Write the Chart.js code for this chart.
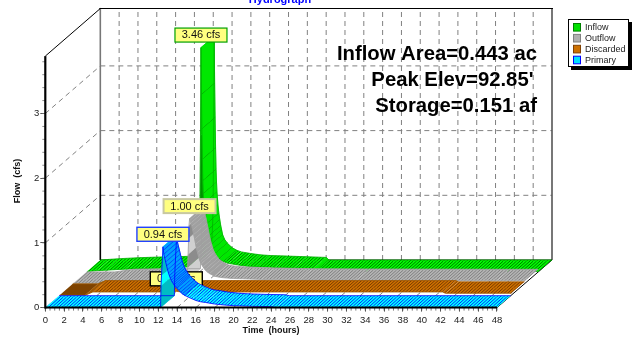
<!DOCTYPE html>
<html><head><meta charset="utf-8">
<style>html,body{margin:0;padding:0;background:#fff}canvas{display:block}</style>
<script src="https://cdn.jsdelivr.net/npm/chart.js@4"></script>
</head><body><canvas id="c" width="637" height="341"></canvas>
<script>
const inflowHours=[0,1,2,4,6,8,10,11,11.5,11.75,11.85,11.95,12,12.05,12.1,12.15,12.2,12.25,12.3,12.35,12.4,12.5,12.6,12.7,12.8,12.9,13,13.2,13.5,14,14.5,15,16,17,18,20,22,24,24.3,48];
const inflowCfs=[0,.01,.02,.035,.045,.05,.06,.075,.1,.15,.3,.6,1.1,2.1,3.46,2.73,2.2,1.73,1.4,1.2,1.05,.85,.72,.62,.53,.46,.39,.32,.26,.19,.15,.125,.1,.08,.07,.06,.05,.04,0,0];
const outflowHours=[0,3,4,5,11,12.1,12.15,12.2,12.25,12.3,12.35,12.4,12.5,12.6,12.7,12.8,12.9,13,13.1,13.2,13.3,13.4,13.5,13.6,13.8,14,14.2,14.5,15,15.5,16,17,18,20,24,30,45,48];
const outflowCfs=[0,0,.02,.04,.05,.05,.25,.45,.7,.9,1,.97,.93,.88,.82,.75,.68,.6,.53,.47,.42,.37,.33,.3,.25,.21,.18,.15,.11,.095,.085,.075,.07,.06,.05,.045,.04,.04];
const discardedHours=[0,2.7,3.5,12,12.4,13,40.7,41,48];
const discardedCfs=[0,0,.05,.05,.06,.05,.05,.03,.03];
const primaryHours=[0,12.25,12.3,12.35,12.45,12.5,12.55,12.6,12.7,12.8,12.9,13,13.1,13.2,13.3,13.4,13.5,13.6,13.7,13.8,13.9,14,14.2,14.4,14.6,14.8,15,15.3,15.6,16,16.5,17,18,19,20,22,24,24.5,48];
const primaryCfs=[0,0,.34,.5,.78,.94,.88,.82,.76,.7,.64,.58,.53,.49,.45,.42,.39,.37,.345,.325,.31,.295,.265,.235,.21,.19,.175,.155,.135,.11,.09,.08,.055,.04,.03,.02,.015,0,0];
const xTicks=[0,2,4,6,8,10,12,14,16,18,20,22,24,26,28,30,32,34,36,38,40,42,44,46,48];
const yTicks=[0,1,2,3];
const peakLabels=["3.46 cfs","1.00 cfs","0.06 cfs","0.94 cfs"];
const seriesNames=["Inflow","Outflow","Discarded","Primary"];
const noteLines=["Inflow Area=0.443 ac","Peak Elev=92.85'","Storage=0.151 af"];

const FONT='"Liberation Sans", Arial, sans-serif';
const STYLES=[
 {d:[.76,1],base:'#00ff00',fall:'#00e800',hatch:'#005a00',steep:'#006000',lw:.9,edge:'#00b000',faces:['#009000','#00c000'],box:'#00a000',boxW:1.2,swatch:'#00e000',swEdge:'#008000'},
 {d:[.51,.75],base:'#b4b4b4',fall:'#a0a0a0',hatch:'#777777',steep:'#c8c8c8',lw:.9,edge:'#a0a0a0',faces:['#d0d0d0','#8c8c8c'],box:'#c8c8a0',boxW:2,swatch:'#b0b0b0',swEdge:'#808080'},
 {d:[.26,.5],base:'#cc7000',fall:'#cc7000',hatch:'#6a3000',steep:'#6a3000',lw:.9,edge:'#a05800',faces:['#a05800','#cc7000'],box:'#000000',boxW:1.4,zero:'#7f4300',swatch:'#cc7000',swEdge:'#804000'},
 {d:[0,.25],base:'#00ffff',fall:'#00a0ff',hatch:'#0000ff',steep:'#0000ff',lw:1.1,edge:'#0000ff',faces:['#00bcc4','#00ffff'],box:'#2040ff',boxW:1.4,swatch:'#00e0ff',swEdge:'#0000ff'}
];
const DEPTH_X=55/9.408, DEPTH_Y=47.6/64.7, AXIS_TOP=3.887;

function hatchTile(ctx,color){
  const c=document.createElement('canvas');c.width=10;c.height=9;
  const g=c.getContext('2d');g.strokeStyle=color;g.lineWidth=.85;
  for(let k=-4;k<=4;k++){const o=k*10/3;g.beginPath();g.moveTo(o,9);g.lineTo(o+10,0);g.stroke();}
  return ctx.createPattern(c,'repeat');
}
function dash(ctx,x0,y0,x1,y1,col){ctx.save();ctx.strokeStyle=col||'#808080';ctx.lineWidth=1;ctx.setLineDash([5,4]);ctx.beginPath();ctx.moveTo(x0,y0);ctx.lineTo(x1,y1);ctx.stroke();ctx.restore();}
function solid(ctx,x0,y0,x1,y1,col,w){ctx.save();ctx.strokeStyle=col;ctx.lineWidth=w;ctx.beginPath();ctx.moveTo(x0,y0);ctx.lineTo(x1,y1);ctx.stroke();ctx.restore();}

const hydro={
 id:'hydro',
 beforeDatasetsDraw(chart){
  const {ctx,scales:{x,y}}=chart;
  const X=(t,f)=>x.getPixelForValue(t+f*DEPTH_X), Y=(v,f)=>y.getPixelForValue(v+f*DEPTH_Y);
  for(let t=2;t<=46;t+=2){dash(ctx,X(t,1),Y(0,1),X(t,1),Y(AXIS_TOP,1));dash(ctx,X(t,0),Y(0,0),X(t,1),Y(0,1));}
  for(const v of [1,2,3]){dash(ctx,X(0,1),Y(v,1),X(48,1),Y(v,1));dash(ctx,X(0,0),Y(v,0),X(0,1),Y(v,1));}
  solid(ctx,X(0,1),Y(1.4,1),X(0,1),Y(AXIS_TOP,1),'#777',1.6);
  solid(ctx,X(0,1),Y(0,1),X(0,1),Y(1.4,1),'#000',1.6);
  solid(ctx,X(48,1),Y(0,1),X(48,1),Y(AXIS_TOP,1),'#555',1.6);
  solid(ctx,X(0,1)-1,Y(AXIS_TOP,1),X(48,1)+1,Y(AXIS_TOP,1),'#000',1);
  solid(ctx,X(0,0),Y(AXIS_TOP,0),X(0,1),Y(AXIS_TOP,1),'#000',1);
  solid(ctx,X(0,1),Y(0,1),X(48,1),Y(0,1),'#000',1);
  solid(ctx,X(48,0),Y(0,0),X(48,1),Y(0,1),'#000',1);
 },
 afterDatasetsDraw(chart){
  const {ctx,scales:{x,y}}=chart;
  const X=(t,f)=>x.getPixelForValue(t+f*DEPTH_X), Y=(v,f)=>y.getPixelForValue(v+f*DEPTH_Y);
  chart.data.datasets.forEach((ds,si)=>{
    const st=STYLES[si],[f0,f1]=st.d,pts=ds.data;
    const pat=hatchTile(ctx,st.hatch);
    let faceIdx=0;
    ctx.save();
    for(let i=0;i<pts.length-1;i++){
      const a=pts[i],b=pts[i+1];
      const rise=(b.y-a.y)*64.7, run=(b.x-a.x)*9.408;
      ctx.beginPath();
      ctx.moveTo(X(a.x,f0),Y(a.y,f0));ctx.lineTo(X(b.x,f0),Y(b.y,f0));
      ctx.lineTo(X(b.x,f1),Y(b.y,f1));ctx.lineTo(X(a.x,f1),Y(a.y,f1));ctx.closePath();
      if(rise>3){ctx.fillStyle=st.faces[faceIdx++%2];ctx.fill();ctx.strokeStyle=ctx.fillStyle;ctx.lineWidth=.5;ctx.stroke();}
      else if(rise/run<-.55){ctx.fillStyle=st.fall;ctx.fill();ctx.strokeStyle=st.fall;ctx.lineWidth=.5;ctx.stroke();
        ctx.beginPath();ctx.moveTo(X(b.x,f0),Y(b.y,f0));ctx.lineTo(X(b.x,f1),Y(b.y,f1));ctx.strokeStyle=st.steep;ctx.lineWidth=st.lw;ctx.stroke();}
      else if(st.zero&&a.y===0&&b.y===0){ctx.fillStyle=st.zero;ctx.fill();}
      else{ctx.fillStyle=st.base;ctx.fill();ctx.fillStyle=pat;ctx.fill();}
    }
    for(const f of [f0,f1]){
      ctx.beginPath();pts.forEach((p,i)=>{i?ctx.lineTo(X(p.x,f),Y(p.y,f)):ctx.moveTo(X(p.x,f),Y(p.y,f));});
      ctx.strokeStyle=st.edge;ctx.lineWidth=.8;ctx.stroke();
    }
    let pk=pts[0];pts.forEach(p=>{if(p.y>pk.y)pk=p;});
    const cx=X(pk.x,f0),by=Y(pk.y,f0)-5.5;
    ctx.fillStyle='#ffff80';ctx.fillRect(cx-26,by-14,52,14);
    ctx.strokeStyle=st.box;ctx.lineWidth=st.boxW;ctx.strokeRect(cx-26,by-14,52,14);
    ctx.fillStyle='#111';ctx.font='11px '+FONT;ctx.textAlign='center';ctx.textBaseline='middle';
    ctx.fillText(peakLabels[si],cx,by-6.6);
    ctx.restore();
  });
 },
 afterDraw(chart){
  const {ctx,scales:{x,y}}=chart;
  const xp=t=>x.getPixelForValue(t),yp=v=>y.getPixelForValue(v);
  for(let t=0;t<=48;t+=.5)solid(ctx,xp(t),yp(0),xp(t),yp(0)+3,'#555',.8);
  for(let k=0;k*.2<=AXIS_TOP;k++){solid(ctx,xp(0)-3,yp(k*.2),xp(0),yp(k*.2),'#777',.8);}
  solid(ctx,xp(0),yp(0),xp(48),yp(0),'#000',2);
  solid(ctx,xp(0),yp(0)+1,xp(0),yp(AXIS_TOP),'#000',2.2);
  ctx.save();
  ctx.textAlign='center';ctx.textBaseline='alphabetic';
  ctx.fillStyle='#0000ff';ctx.font='bold 11px '+FONT;ctx.fillText('Hydrograph',280,2.5);
  ctx.fillStyle='#111';ctx.font='bold 9px '+FONT;ctx.fillText('Time  (hours)',271,333);
  ctx.save();ctx.translate(20,181);ctx.rotate(-Math.PI/2);ctx.fillText('Flow  (cfs)',0,0);ctx.restore();
  ctx.font='bold 20.3px '+FONT;ctx.textAlign='right';ctx.fillStyle='#000';
  ctx.fillText(noteLines[0],537,59.5);ctx.fillText(noteLines[1],533.5,85.5);ctx.fillText(noteLines[2],537,111.5);
  ctx.fillStyle='#000';ctx.fillRect(571,22,61,48);
  ctx.fillStyle='#fff';ctx.fillRect(568,19,61,48);
  ctx.strokeStyle='#000';ctx.lineWidth=1;ctx.strokeRect(568.5,19.5,60,47);
  ctx.font='9px '+FONT;ctx.textAlign='left';ctx.textBaseline='middle';
  seriesNames.forEach((n,i)=>{
    const cy=27.3+i*10.9,st=STYLES[i];
    ctx.fillStyle=st.swatch;ctx.fillRect(573.5,cy-3.8,7,7.6);
    ctx.strokeStyle=st.swEdge;ctx.lineWidth=1;ctx.strokeRect(573.5,cy-3.8,7,7.6);
    ctx.fillStyle='#222';ctx.fillText(n,585,cy+.3);
  });
  ctx.restore();
 }
};

const toPts=(h,v)=>h.map((t,i)=>({x:t,y:v[i]}));
new Chart(document.getElementById('c'),{
 type:'scatter',
 data:{datasets:[
  {label:seriesNames[0],data:toPts(inflowHours,inflowCfs),pointRadius:0,showLine:false},
  {label:seriesNames[1],data:toPts(outflowHours,outflowCfs),pointRadius:0,showLine:false},
  {label:seriesNames[2],data:toPts(discardedHours,discardedCfs),pointRadius:0,showLine:false},
  {label:seriesNames[3],data:toPts(primaryHours,primaryCfs),pointRadius:0,showLine:false}
 ]},
 plugins:[hydro],
 options:{
  responsive:false,animation:false,events:[],
  layout:{padding:{top:8,right:85,left:0,bottom:0}},
  plugins:{legend:{display:false},title:{display:false},tooltip:{enabled:false}},
  scales:{
   x:{type:'linear',min:0,max:48+DEPTH_X,
      afterBuildTicks:s=>{s.ticks=xTicks.map(v=>({value:v}));},
      afterFit:s=>{s.height=33.4;},
      border:{display:false},
      grid:{drawOnChartArea:false,drawTicks:true,tickLength:4,tickColor:'#555'},
      ticks:{autoSkip:false,maxRotation:0,padding:3,color:'#222',font:{family:FONT,size:9.5},callback:v=>String(v)}},
   y:{type:'linear',min:0,max:(307.6-8)/64.7,
      afterBuildTicks:s=>{s.ticks=yTicks.map(v=>({value:v}));},
      afterFit:s=>{s.width=45.3;},
      border:{display:false},
      grid:{drawOnChartArea:false,drawTicks:true,tickLength:5,tickColor:'#555'},
      ticks:{autoSkip:false,padding:1,color:'#222',font:{family:FONT,size:9.5},callback:v=>String(v)}}
  }
 }
});
</script></body></html>
